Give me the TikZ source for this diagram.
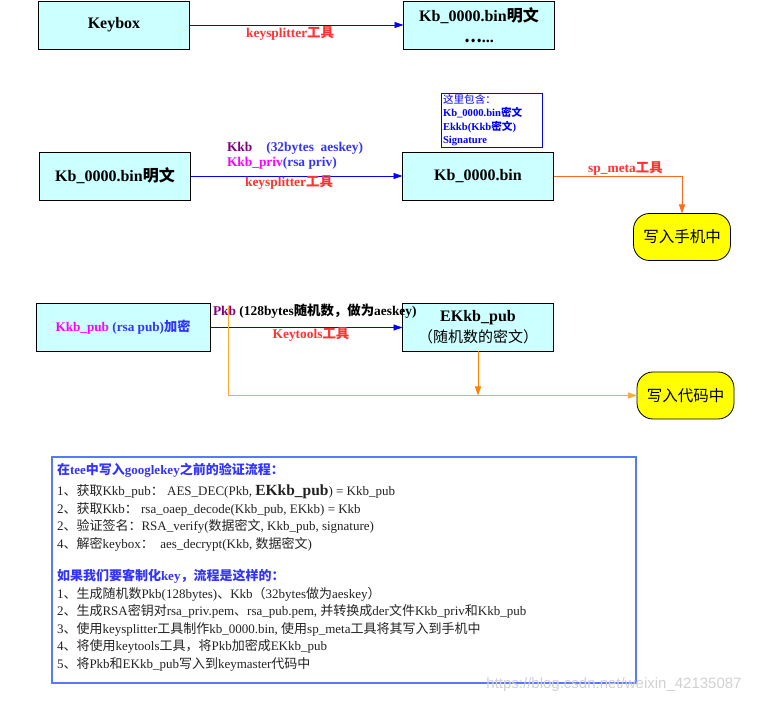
\documentclass[tikz,border=0pt]{standalone}
\usepackage{fontspec}
\setmainfont{Liberation Serif}
\setsansfont{Liberation Sans}
\newfontfamily\cjk{Noto Sans CJK SC}
\newcommand\zh[1]{{\cjk #1}}
\usetikzlibrary{arrows.meta}

\definecolor{cccffff}{RGB}{204,255,255}
\definecolor{c0000ff}{RGB}{0,0,255}
\definecolor{c3333ff}{RGB}{51,51,255}
\definecolor{cff3333}{RGB}{255,51,51}
\definecolor{c800080}{RGB}{128,0,128}
\definecolor{cff00ff}{RGB}{255,0,255}
\definecolor{cff6a1a}{RGB}{255,106,26}
\definecolor{cff8000}{RGB}{255,128,0}
\definecolor{cffaa33}{RGB}{255,170,51}
\definecolor{cffff00}{RGB}{255,255,0}
\definecolor{c5a78ff}{RGB}{90,120,255}
\definecolor{c222222}{RGB}{34,34,34}

\begin{document}
\begin{tikzpicture}[x=1pt, y=1pt, yscale=-1, inner sep=0pt, outer sep=0pt,
  keybox/.style={draw=black, fill=cccffff, line width=0.8pt, minimum width=151pt,
    minimum height=48pt, align=center, font=\bfseries\fontsize{16}{21}\selectfont},
  donebox/.style={draw=black, fill=cffff00, line width=0.8pt, rounded corners=16pt,
    minimum width=97pt, minimum height=47pt, font=\fontsize{15.5}{18}\selectfont},
  bluearrow/.style={draw=c0000ff, line width=0.8pt, -{Triangle[length=9pt,width=6pt]}},
  orangearrow/.style={line width=0.8pt, -{Triangle[length=9pt,width=6pt]}},
  toollabel/.style={text=cff3333, font=\bfseries\fontsize{13.4}{15}\selectfont},
  keylabel/.style={anchor=west, font=\bfseries\fontsize{13.4}{15}\selectfont}]

  \useasboundingbox (0,0) rectangle (758,703);

  % row 1
  \node[keybox] (keybox) at (114,25) {Keybox};
  \node[keybox] (plain1) at (479,25) {Kb\_0000.bin\zh{明文}\\\zh{…}...};
  \draw[bluearrow] (keybox) -- (plain1)
    node[toollabel, pos=.47, below=2pt] (split1) {keysplitter\zh{工具}};

  % row 2
  \node[keybox] (plain2) at (115,176) {Kb\_0000.bin\zh{明文}};
  \node[keybox] (enc) at (478,176) {Kb\_0000.bin};
  \node[draw=c0000ff, line width=0.6pt, anchor=north west, minimum width=101pt,
    minimum height=54pt, text width=97pt, inner xsep=2pt, align=left, text=c0000ff,
    font=\fontsize{10.6}{13.5}\selectfont] (info) at (441,93)
    {\zh{这里包含：}\\\textbf{Kb\_0000.bin\zh{密文}}\\\textbf{Ekkb(Kkb\zh{密文})}\\\textbf{Signature}};
  \draw[bluearrow] (plain2) -- (enc);
  \node[keylabel] (kkb) at (227,148)
    {\textcolor{c800080}{Kkb}\hspace{14pt}\textcolor{c3333ff}{(32bytes\ \ aeskey)}};
  \node[keylabel] (kkbpriv) at (227,163)
    {\textcolor{cff00ff}{Kkb\_priv}\textcolor{c3333ff}{(rsa priv)}};
  \node[toollabel] (split2) at (289,183) {keysplitter\zh{工具}};

  \node[donebox] (phone) at (682,237) {\zh{写入手机中}};
  \draw[orangearrow, draw=cff6a1a] (enc.east) -| (phone.north)
    node[toollabel, pos=.28, above=1pt] (meta) {sp\_meta\zh{工具}};

  % row 3
  \node[keybox, minimum width=174pt, font=\bfseries\fontsize{13.2}{15}\selectfont] (pub) at (123,327.5)
    {\textcolor{cff00ff}{Kkb\_pub} \textcolor{c3333ff}{(rsa pub)\zh{加密}}};
  \node[keybox] (ekkb) at (478,327.5)
    {EKkb\_pub\\{\mdseries\fontsize{15}{18}\selectfont\zh{（随机数的密文）}}};
  \draw[bluearrow] (pub) -- (ekkb);
  \node[keylabel] (pkb) at (213,311)
    {\textcolor{c800080}{Pkb} (128bytes\zh{随机数，做为}aeskey)};
  \node[toollabel] (keytools) at (311,335) {Keytools\zh{工具}};

  \node[donebox] (code) at (685.5,395.5) {\zh{写入代码中}};
  \coordinate (tap) at (228,306);
  \draw[orangearrow, draw=cffaa33] (tap) |- (code.west);
  \draw[orangearrow, draw=cff8000] (ekkb.south) -- (ekkb.south |- code.west);

  % notes
  \node[draw=c5a78ff, line width=1.2pt, anchor=north west, minimum width=584pt,
    minimum height=226pt] (notes) at (52,457) {};
  \node[anchor=north west, align=left, text=c222222,
    font=\fontsize{13}{17.5}\selectfont] (steps) at (57,463)
    {\textcolor{c3333ff}{\bfseries\zh{在}tee\zh{中写入}googlekey\zh{之前的验证流程：}}\\[4pt]
     1\zh{、获取}Kkb\_pub\zh{：}\ AES\_DEC(Pkb, {\bfseries\fontsize{15.5}{17.5}\selectfont EKkb\_pub}) = Kkb\_pub\\
     2\zh{、获取}Kkb\zh{：}\ rsa\_oaep\_decode(Kkb\_pub, EKkb) = Kkb\\
     2\zh{、验证签名：}RSA\_verify(\zh{数据密文}, Kkb\_pub, signature)\\
     4\zh{、解密}keybox\zh{：}\ \ aes\_decrypt(Kkb, \zh{数据密文})\\[15pt]
     \textcolor{c3333ff}{\bfseries\zh{如果我们要客制化}key\zh{，流程是这样的：}}\\
     1\zh{、生成随机数}Pkb(128bytes)\zh{、}Kkb\zh{（}32bytes\zh{做为}aeskey\zh{）}\\
     2\zh{、生成}RSA\zh{密钥对}rsa\_priv.pem\zh{、}rsa\_pub.pem, \zh{并转换成}der\zh{文件}Kkb\_priv\zh{和}Kkb\_pub\\
     3\zh{、使用}keysplitter\zh{工具制作}kb\_0000.bin, \zh{使用}sp\_meta\zh{工具将其写入到手机中}\\
     4\zh{、将使用}keytools\zh{工具，将}Pkb\zh{加密成}EKkb\_pub\\
     5\zh{、将}Pkb\zh{和}EKkb\_pub\zh{写入到}keymaster\zh{代码中}};

  \node[text=black!18, font=\sffamily\fontsize{15}{17}\selectfont] (mark) at (614,685)
    {https://blog.csdn.net/weixin\_42135087};
\end{tikzpicture}
\end{document}
